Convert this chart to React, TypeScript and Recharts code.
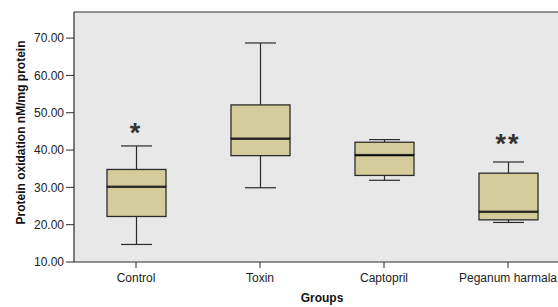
import React from "react";
import {
  ComposedChart,
  Bar,
  Scatter,
  XAxis,
  YAxis,
  CartesianGrid,
  ReferenceLine,
  Label,
} from "recharts";

const groups = ["Control", "Toxin", "Captopril", "Peganum harmala"];
const mins = [14.7, 29.9, 31.9, 20.6];
const q1s = [22.2, 38.5, 33.2, 21.3];
const medians = [30.3, 43.2, 38.8, 23.6];
const q3s = [34.8, 52.1, 42.1, 33.8];
const maxs = [41.1, 68.7, 42.8, 36.8];
const sigLabels = ["*", "", "", "**"];
const sigYs = [46.35, null, null, 43.4];
const yTicks = [10, 20, 30, 40, 50, 60, 70];
const yMin = 10;
const yMax = 77;

const data = groups.map((g, i) => ({
  name: g,
  base: mins[i],
  lowW: q1s[i] - mins[i],
  boxLow: medians[i] - q1s[i],
  boxHigh: q3s[i] - medians[i],
  highW: maxs[i] - q3s[i],
  sig: sigLabels[i],
  sigY: sigYs[i],
}));

const FONT = "'Liberation Sans', Arial, sans-serif";
const BOX_FILL = "#d4cd9b";
const LINE = "#2b2b2b";
const CAP = 31;
const SIG_SIZE = 27;

const Empty = () => <g />;

const LowWhisker = (p: any) => {
  const cx = p.x + p.width / 2;
  const yb = p.y + p.height;
  return (
    <g>
      <line x1={cx} x2={cx} y1={p.y} y2={yb} stroke={LINE} strokeWidth={1.2} />
      <line x1={cx - CAP / 2} x2={cx + CAP / 2} y1={yb} y2={yb} stroke={LINE} strokeWidth={1.2} />
    </g>
  );
};

const HighWhisker = (p: any) => {
  const cx = p.x + p.width / 2;
  return (
    <g>
      <line x1={cx} x2={cx} y1={p.y} y2={p.y + p.height} stroke={LINE} strokeWidth={1.2} />
      <line x1={cx - CAP / 2} x2={cx + CAP / 2} y1={p.y} y2={p.y} stroke={LINE} strokeWidth={1.2} />
    </g>
  );
};

const BoxLow = (p: any) => (
  <g>
    <rect x={p.x} y={p.y} width={p.width} height={p.height} fill={BOX_FILL} stroke={LINE} strokeWidth={1.3} />
    <line x1={p.x} x2={p.x + p.width} y1={p.y} y2={p.y} stroke="#000" strokeWidth={3.2} />
  </g>
);

const BoxHigh = (p: any) => (
  <rect x={p.x} y={p.y} width={p.width} height={p.height} fill={BOX_FILL} stroke={LINE} strokeWidth={1.3} />
);

const SigMark = (p: any) => {
  if (!p.payload || !p.payload.sig) return <g />;
  return (
    <text
      x={p.cx}
      y={p.cy + SIG_SIZE * 0.58}
      textAnchor="middle"
      fontFamily={FONT}
      fontWeight="bold"
      fontSize={SIG_SIZE}
      letterSpacing={2}
      fill="#333"
    >
      {p.payload.sig}
    </text>
  );
};

const YLabel = () => (
  <text
    x={17}
    y={124.5}
    transform="rotate(-90, 17, 124.5)"
    textAnchor="middle"
    fontFamily={FONT}
    fontWeight="bold"
    fontSize={12}
    fill="#111"
  >
    Protein oxidation nM/mg protein
  </text>
);

export default function App() {
  return (
    <div style={{ position: "absolute", left: 8, top: 8, width: 550, height: 299, overflow: "hidden" }}>
      <ComposedChart
        width={562}
        height={299}
        data={data}
        margin={{ top: 4, right: 0, bottom: 0, left: 0 }}
      >
        <CartesianGrid horizontal={false} vertical={false} fill="#e8e8e8" />
        <ReferenceLine y={yMax} stroke={LINE} strokeWidth={1.2} />
        <XAxis
          dataKey="name"
          height={45}
          tickSize={6}
          tickMargin={5}
          stroke={LINE}
          tick={{ fill: "#222", fontSize: 12, fontFamily: FONT }}
          axisLine={{ stroke: LINE, strokeWidth: 1.2 }}
          tickLine={{ stroke: LINE }}
        >
          <Label
            value="Groups"
            position="insideBottom"
            offset={5}
            style={{ fontFamily: FONT, fontWeight: "bold", fontSize: 12, fill: "#111" }}
          />
        </XAxis>
        <YAxis
          width={66}
          domain={[yMin, yMax]}
          ticks={yTicks}
          allowDataOverflow
          tickFormatter={(v: number) => v.toFixed(2)}
          tickSize={8}
          tickMargin={2}
          stroke={LINE}
          tick={{ fill: "#222", fontSize: 12, fontFamily: FONT }}
          axisLine={{ stroke: LINE, strokeWidth: 1.2 }}
          tickLine={{ stroke: LINE }}
        >
          <Label content={YLabel} />
        </YAxis>
        <Bar dataKey="base" stackId="a" barSize={59} shape={Empty} isAnimationActive={false} />
        <Bar dataKey="lowW" stackId="a" barSize={59} shape={LowWhisker} isAnimationActive={false} />
        <Bar dataKey="boxLow" stackId="a" barSize={59} shape={BoxLow} isAnimationActive={false} />
        <Bar dataKey="boxHigh" stackId="a" barSize={59} shape={BoxHigh} isAnimationActive={false} />
        <Bar dataKey="highW" stackId="a" barSize={59} shape={HighWhisker} isAnimationActive={false} />
        <Scatter dataKey="sigY" shape={SigMark} isAnimationActive={false} />
      </ComposedChart>
    </div>
  );
}
